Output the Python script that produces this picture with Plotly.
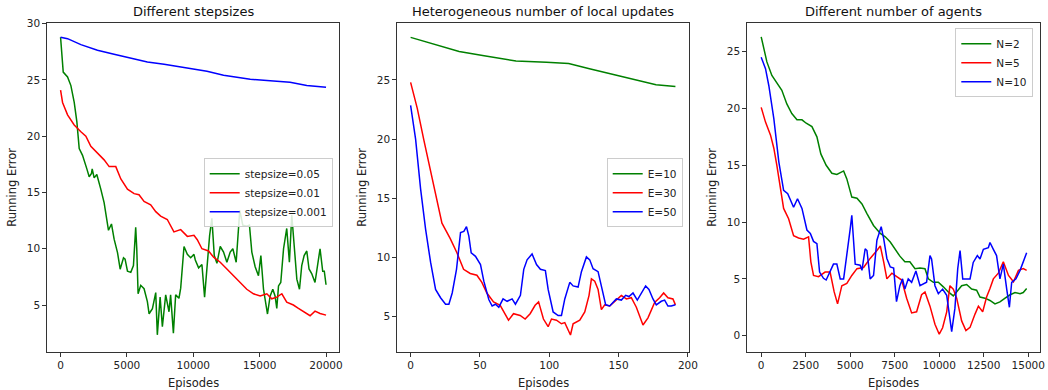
import plotly.graph_objects as go

# ---------------- Panel 1: Different stepsizes ----------------
p1_titles = ["stepsize=0.05", "stepsize=0.01", "stepsize=0.001"]
p1_g_x = [0, 75, 200, 526, 777, 1028, 1228, 1404, 1654, 1980, 2155, 2330, 2383, 2530, 2730, 3030, 3280, 3610, 3835,
          4035, 4290, 4490, 4740, 4860, 5040, 5290, 5490, 5660, 5740, 5840, 6040, 6290, 6540, 6670, 6920, 7170,
          7290, 7500, 7670, 7920, 8170, 8290, 8500, 8670, 8920, 9050, 9300, 9550, 9800, 10050, 10150, 10400,
          10650, 10850, 11030, 11230, 11400, 11580, 11780, 12030, 12280, 12530, 12780, 12980, 13230, 13350,
          13500, 13730, 14030, 14230, 14410, 14660, 14910, 15090, 15290, 15590, 15790, 15990, 16160, 16290,
          16420, 16590, 16800, 17040, 17240, 17420, 17600, 17800, 18000, 18170, 18350, 18550, 18720, 18920,
          19170, 19300, 19550, 19750, 19870, 20000]
p1_g_y = [28.8, 27.2, 25.7, 25.27, 24.5, 23.0, 21.27, 18.9, 18.3, 17.1, 16.4, 16.7, 17.1, 16.3, 16.6, 15.3, 14.1,
          11.64, 12.2, 10.85, 9.66, 8.18, 9.2, 9.07, 8.0, 7.9, 8.5, 11.9, 10.0, 6.0, 6.75, 6.45, 5.3, 4.22, 4.67,
          6.1, 2.35, 5.7, 3.07, 5.9, 4.4, 5.9, 2.5, 5.9, 5.6, 6.5, 10.2, 9.5, 9.2, 9.5, 9.0, 8.3, 8.6, 5.7, 8.6,
          11.2, 12.7, 9.4, 8.7, 10.2, 9.7, 8.8, 9.7, 10.0, 8.8, 10.9, 13.4, 12.1, 12.0, 12.1, 9.7, 8.4, 7.6, 9.4,
          6.4, 4.2, 5.8, 6.4, 5.8, 4.7, 6.7, 7.0, 10.0, 11.8, 8.8, 13.0, 10.0, 7.3, 6.4, 8.5, 9.4, 9.8, 8.2, 7.8,
          7.0, 8.2, 10.0, 8.0, 8.0, 6.8]
p1_r_x = [0, 150, 526, 1028, 1530, 1905, 2280, 2780, 3280, 3660, 4160, 4540, 5040, 5540, 5910, 6290, 6790, 7170,
          7540, 8040, 8540, 9050, 9550, 10050, 10300, 10650, 11150, 11530, 12030, 12530, 13030, 13530, 14030,
          14530, 15040, 15540, 15910, 16290, 16670, 17040, 17540, 17920, 18420, 18800, 19170, 19550, 20000]
p1_r_y = [24.1, 23.0, 21.9, 21.0, 20.4, 20.0, 19.1, 18.5, 17.9, 17.3, 17.3, 16.2, 15.3, 14.9, 14.8, 14.2, 13.9,
          13.3, 12.9, 12.6, 11.5, 11.7, 11.1, 11.2, 10.8, 10.0, 9.8, 9.25, 8.8, 8.2, 7.6, 7.0, 6.4, 6.0, 5.8, 6.0,
          5.55, 5.7, 6.0, 5.25, 5.0, 4.7, 4.3, 4.05, 4.45, 4.25, 4.1]
p1_b_x = [0, 526, 1530, 2780, 4030, 5290, 6540, 7800, 9050, 10300, 11030, 12280, 14290, 16040, 17290, 18550, 20000]
p1_b_y = [28.8, 28.67, 28.14, 27.64, 27.28, 26.96, 26.6, 26.4, 26.16, 25.95, 25.77, 25.42, 25.06, 24.9, 24.8,
          24.5, 24.35]

# ---------------- Panel 2: Heterogeneous number of local updates ----------------
p2_titles = ["E=10", "E=30", "E=50"]
p2_g_x = [0, 14, 35, 53, 76, 98, 114, 129, 146, 163, 177, 191]
p2_g_y = [28.6, 28.1, 27.4, 27.05, 26.6, 26.5, 26.4, 25.95, 25.45, 25.0, 24.6, 24.45]
p2_r_x = [0, 4.8, 9.6, 14.1, 19, 22.6, 28.6, 33.4, 38.2, 43, 47.8, 51.4, 55, 59.8, 64.6, 68.2, 70.6, 74.2, 79,
          82.6, 86.2, 89.8, 92.3, 95.8, 99.2, 101.6, 105.2, 108.8, 111.2, 115.3, 117.2, 122, 125.6, 128.7, 130.4,
          132.8, 135.2, 137.6, 140, 143.6, 147.2, 152, 155.6, 159.2, 162.8, 167.6, 171.2, 176, 179.6, 182.5,
          185.6, 189.2, 191]
p2_r_y = [24.8, 22.6, 19.9, 17.4, 14.9, 12.9, 11.6, 10.4, 9.0, 8.65, 8.5, 7.9, 7.0, 6.25, 5.96, 5.25, 4.7, 5.25,
          5.1, 4.8, 5.25, 5.96, 6.25, 4.8, 4.15, 4.8, 4.7, 4.4, 4.5, 3.45, 4.4, 4.7, 5.4, 6.8, 8.2, 8.0, 7.3, 5.6,
          6.0, 5.9, 6.3, 6.8, 6.5, 6.6, 5.8, 4.3, 4.9, 6.2, 6.6, 7.0, 6.6, 6.5, 6.0]
p2_b_x = [0, 3.6, 7.2, 10.8, 14.4, 18, 21.6, 25.2, 27.6, 30, 33.1, 36, 38.4, 40.3, 42, 43.7, 46.8, 50.4, 52.8,
          56.4, 58.8, 61.2, 63.6, 66.7, 69.6, 73.2, 75.6, 79.2, 81.6, 84, 87.6, 90.8, 93.6, 97.2, 99.2, 102.8,
          106.4, 108.8, 111.2, 114.8, 117.2, 120.8, 123.2, 126.8, 129.2, 131.6, 135.2, 137.6, 140.7, 143.6,
          148.4, 152, 155.1, 157.5, 160.4, 163.5, 166.4, 169.5, 171.9, 174.8, 177.2, 180.8, 183.2, 185.6, 188,
          191]
p2_b_y = [22.85, 20.0, 15.8, 12.4, 9.6, 7.3, 6.6, 6.05, 6.05, 7.0, 9.0, 12.1, 12.2, 12.6, 11.8, 10.4, 10.1, 9.4,
          8.0, 6.45, 5.9, 6.05, 5.8, 6.5, 6.3, 6.5, 6.05, 6.8, 9.0, 9.8, 10.3, 9.4, 9.0, 8.9, 7.3, 5.4, 5.1, 5.1,
          6.5, 7.9, 7.6, 7.5, 8.8, 10.05, 9.8, 9.05, 8.8, 7.6, 6.0, 5.9, 6.5, 6.4, 6.8, 6.7, 7.0, 6.4, 7.0, 7.6,
          7.3, 6.5, 6.0, 6.3, 6.4, 5.9, 5.9, 6.0]

# ---------------- Panel 3: Different number of agents ----------------
p3_titles = ["N=2", "N=5", "N=10"]
p3_g_x = [0, 133, 320, 600, 880, 1160, 1440, 1720, 2010, 2290, 2530, 2850, 3130, 3350, 3650, 3970, 4250, 4630,
          4810, 5090, 5380, 5660, 5940, 6310, 6690, 6970, 7250, 7510, 7790, 8070, 8350, 8640, 8920, 9200, 9390,
          9670, 9950, 10230, 10510, 10790, 10980, 11260, 11540, 11820, 12100, 12290, 12570, 12850, 13130, 13410,
          13700, 13980, 14260, 14540, 14720, 14910]
p3_g_y = [26.3, 25.3, 24.1, 22.9, 22.2, 21.6, 20.4, 19.55, 19.0, 19.0, 18.7, 18.4, 17.5, 16.0, 15.0, 14.3, 14.2,
          14.5, 13.8, 12.2, 12.1, 11.6, 10.75, 9.7, 9.0, 8.7, 8.25, 7.6, 7.0, 6.5, 6.5, 5.9, 5.95, 5.9, 5.0, 4.7,
          4.7, 4.3, 3.85, 3.5, 3.85, 4.4, 4.5, 4.1, 4.0, 3.4, 3.3, 3.1, 2.8, 2.97, 3.3, 3.6, 3.8, 3.7, 3.8, 4.15]
p3_r_x = [0, 243, 525, 710, 880, 1070, 1260, 1540, 1820, 2100, 2380, 2660, 2790, 2940, 3220, 3590, 3870, 4100,
          4290, 4530, 4810, 5090, 5380, 5750, 6120, 6500, 6690, 6880, 7060, 7340, 7600, 7890, 8170, 8450, 8730,
          9010, 9200, 9480, 9760, 10000, 10190, 10420, 10600, 10790, 10980, 11260, 11500, 11730, 12010, 12200,
          12440, 12660, 12850, 13040, 13320, 13600, 13890, 14170, 14450, 14720, 14910]
p3_r_y = [20.1, 18.8, 17.65, 16.5, 15.0, 13.0, 11.2, 10.3, 8.8, 8.6, 8.5, 8.7, 6.5, 5.3, 5.2, 5.6, 5.6, 3.85, 2.8,
          4.4, 4.6, 5.3, 5.9, 6.0, 6.8, 7.5, 7.9, 6.5, 5.0, 5.5, 5.2, 4.9, 3.3, 2.0, 2.1, 3.6, 3.85, 2.6, 1.0,
          0.13, 0.7, 2.1, 4.4, 4.1, 3.3, 1.3, 0.45, 0.73, 1.9, 2.6, 2.1, 3.4, 4.15, 5.0, 5.5, 6.5, 5.3, 4.75, 5.75,
          5.9, 5.75]
p3_b_x = [0, 243, 430, 710, 990, 1260, 1490, 1820, 2040, 2290, 2570, 2760, 2940, 3130, 3280, 3500, 3650, 3870,
          4060, 4250, 4440, 4630, 4810, 5000, 5090, 5280, 5560, 5660, 5840, 5940, 6120, 6310, 6500, 6740, 6880,
          7060, 7250, 7440, 7600, 7790, 7940, 8070, 8260, 8450, 8690, 8920, 9290, 9480, 9570, 9760, 9950, 10190,
          10420, 10570, 10700, 10880, 11040, 11170, 11320, 11540, 11730, 11910, 12140, 12290, 12480, 12760,
          12850, 13040, 13220, 13410, 13600, 13790, 13940, 14070, 14310, 14540, 14720, 14910]
p3_b_y = [24.5, 23.5, 22.0, 19.1, 15.3, 12.8, 12.5, 11.3, 12.05, 11.2, 9.3, 9.0, 8.3, 8.1, 5.6, 5.05, 4.9, 5.6,
          6.3, 6.3, 5.0, 5.0, 7.0, 9.4, 10.6, 6.3, 6.2, 5.75, 7.65, 7.5, 5.0, 5.3, 8.4, 9.6, 8.55, 6.8, 6.05, 5.95,
          3.0, 4.4, 5.0, 4.1, 5.0, 4.7, 5.7, 4.4, 4.7, 7.05, 6.75, 4.4, 3.7, 4.1, 3.55, 1.8, 0.35, 2.4, 5.9, 7.5,
          5.0, 5.0, 5.0, 6.45, 7.05, 6.75, 7.6, 7.75, 8.2, 7.6, 7.05, 5.0, 6.3, 4.1, 2.5, 4.7, 5.0, 5.75, 6.45, 7.3]

panel_titles = ["Different stepsizes", "Heterogeneous number of local updates", "Different number of agents"]
x_label = "Episodes"
y_label = "Running Error"

colors = ["green", "red", "blue"]
FONT = "DejaVu Sans"
W, H = 1048, 390

fig = go.Figure()

panels = [
    (p1_titles, [(p1_g_x, p1_g_y), (p1_r_x, p1_r_y), (p1_b_x, p1_b_y)]),
    (p2_titles, [(p2_g_x, p2_g_y), (p2_r_x, p2_r_y), (p2_b_x, p2_b_y)]),
    (p3_titles, [(p3_g_x, p3_g_y), (p3_r_x, p3_r_y), (p3_b_x, p3_b_y)]),
]
for i, (names, series) in enumerate(panels):
    suffix = "" if i == 0 else str(i + 1)
    for name, (xs, ys), c in zip(names, series, colors):
        fig.add_trace(go.Scatter(x=xs, y=ys, mode="lines", name=name,
                                 line=dict(color=c, width=1.5),
                                 xaxis="x" + suffix, yaxis="y" + suffix,
                                 legend="legend" + suffix, hoverinfo="skip"))

# axes geometry in pixels
x_px = [(47.3, 339.3), (397.3, 689.3), (747.3, 1040.0)]
y_top, y_bot = 22.7, 351.7
x_ranges = [[-1000, 21000], [-9.6, 201.0], [-780, 15660]]
y_ranges = [[0.85, 30.09], [2.04, 29.84], [-1.41, 27.55]]
x_ticks = [[0, 5000, 10000, 15000, 20000], [0, 50, 100, 150, 200],
           [0, 2500, 5000, 7500, 10000, 12500, 15000]]
y_ticks = [[5, 10, 15, 20, 25, 30], [5, 10, 15, 20, 25], [0, 5, 10, 15, 20, 25]]

axis_common = dict(showline=True, linecolor="#333333", linewidth=1, mirror=True,
                   ticks="outside", ticklen=4, tickwidth=1, tickcolor="#333333",
                   showgrid=False, zeroline=False, automargin=False,
                   tickfont=dict(family=FONT, size=10.5, color="#222222"))

layout = dict(width=W, height=H, margin=dict(l=0, r=0, t=0, b=0, pad=0, autoexpand=False), autosize=False,
              paper_bgcolor="white", plot_bgcolor="white",
              font=dict(family=FONT, color="#222222"))
annotations = []
for i in range(3):
    suffix = "" if i == 0 else str(i + 1)
    x0, x1 = x_px[i]
    layout["xaxis" + suffix] = dict(axis_common, domain=[x0 / W, x1 / W], range=x_ranges[i],
                                    tickvals=x_ticks[i], ticktext=[str(v) for v in x_ticks[i]],
                                    anchor="y" + suffix)
    layout["yaxis" + suffix] = dict(axis_common, domain=[1 - y_bot / H, 1 - y_top / H], range=y_ranges[i],
                                    tickvals=y_ticks[i], ticktext=[str(v) for v in y_ticks[i]],
                                    anchor="x" + suffix)
    cx = (x0 + x1) / 2 / W
    annotations.append(dict(text=panel_titles[i], x=cx, y=1 - 11 / H, xref="paper", yref="paper",
                            xanchor="center", yanchor="middle", showarrow=False,
                            font=dict(family=FONT, size=13, color="#111111")))
    annotations.append(dict(text=x_label, x=cx, y=1 - 382.5 / H, xref="paper", yref="paper",
                            xanchor="center", yanchor="middle", showarrow=False,
                            font=dict(family=FONT, size=11.5, color="#222222")))
    annotations.append(dict(text=y_label, x=(x0 - 35.5) / W, y=1 - 187 / H, xref="paper", yref="paper",
                            xanchor="center", yanchor="middle", showarrow=False, textangle=-90,
                            font=dict(family=FONT, size=11.5, color="#222222")))

legend_common = dict(bgcolor="rgba(255,255,255,0.85)", bordercolor="#cccccc", borderwidth=1,
                     font=dict(family=FONT, size=10.5, color="#222222"), tracegroupgap=0,
                     xanchor="right", yanchor="top", itemwidth=30)
layout["legend"] = dict(legend_common, x=332.7 / W, y=1 - 158.3 / H)
layout["legend2"] = dict(legend_common, x=682.7 / W, y=1 - 158.3 / H)
layout["legend3"] = dict(legend_common, x=1033.3 / W, y=1 - 28.3 / H)
layout["annotations"] = annotations
layout["showlegend"] = True

fig.update_layout(**layout)
fig.write_html("out.html",
               config={"displayModeBar": False, "responsive": False},
               post_script="document.documentElement.style.margin='0';"
                           "document.documentElement.style.overflow='hidden';"
                           "document.body.style.margin='0';document.body.style.padding='0';"
                           "document.body.style.overflow='hidden';")
